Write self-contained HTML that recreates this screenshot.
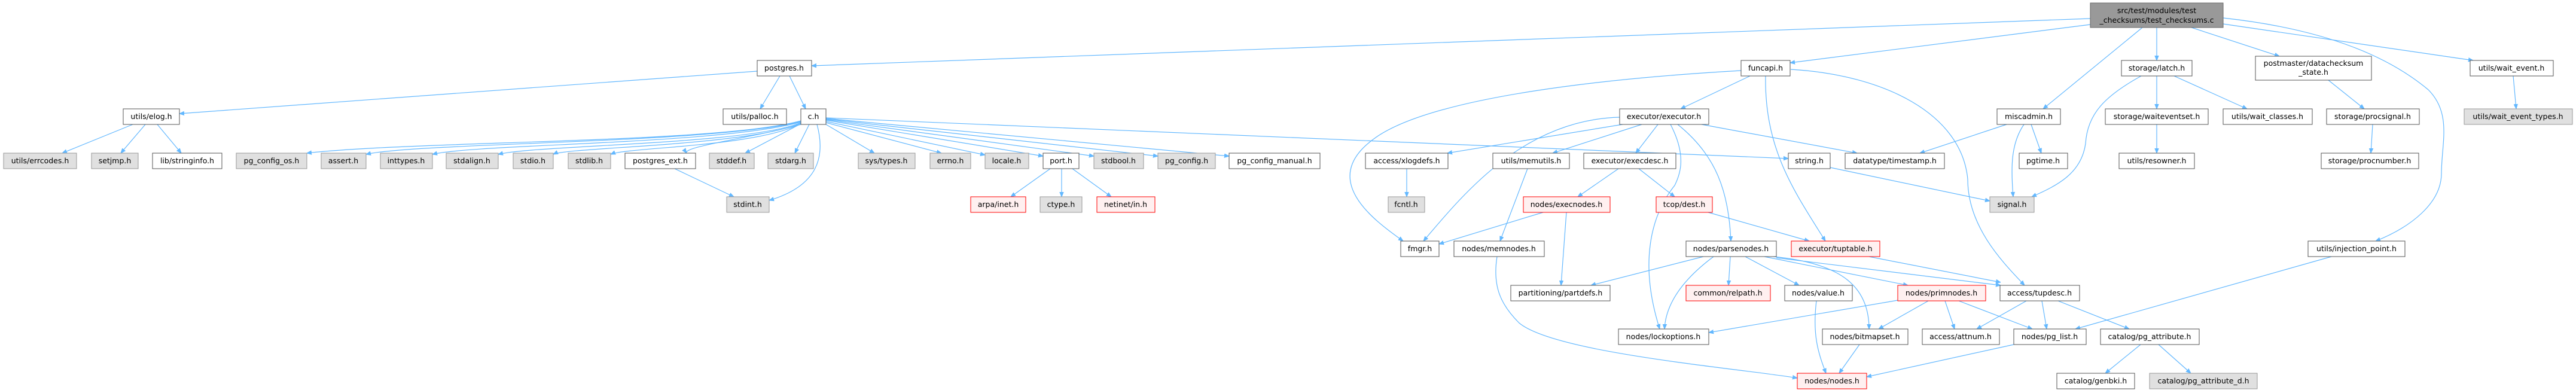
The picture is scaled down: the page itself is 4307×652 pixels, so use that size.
<!DOCTYPE html>
<html><head><meta charset="utf-8"><style>
html,body{margin:0;padding:0;background:#fff;width:4307px;height:652px;overflow:hidden}
svg{display:block}
text{font-family:"DejaVu Sans","Liberation Sans",sans-serif;font-size:12.5px;fill:#000;text-anchor:middle}
.w{fill:#fff;stroke:#555;stroke-width:1}
.g{fill:#e0e0e0;stroke:#999;stroke-width:1}
.r{fill:#fff0f0;stroke:#f00;stroke-width:1}
.t{fill:#999;stroke:#666;stroke-width:1}
path{fill:none;stroke:#63b8ff;stroke-width:1.2;marker-end:url(#a)}
</style></head><body>
<svg width="4307" height="652" viewBox="0 0 4307 652" xmlns="http://www.w3.org/2000/svg">
<defs><marker id="a" viewBox="0 0 10 10" refX="10" refY="5" markerWidth="8" markerHeight="8" markerUnits="userSpaceOnUse" orient="auto"><path d="M0,1 L10,5 L0,9 z" style="fill:#63b8ff;stroke:#63b8ff;marker-end:none"/></marker></defs>

<path d="M3495,31 L1357,110"/>
<path d="M3495,41 L2993,105"/>
<path d="M3582,46 L3416,182"/>
<path d="M3606,46 L3606,101"/>
<path d="M3664,46 L3811,94"/>
<path d="M3717,40 L4135,101"/>
<path d="M3717,30 C3900,50 4000,100 4060,150 C4100,190 4082,240 4082,290 C4082,340 4030,380 3972,403"/>
<path d="M1266,119 L300,190"/>
<path d="M1304,127 L1271,182"/>
<path d="M1320,127 L1347,182"/>
<path d="M222,208 L104,256"/>
<path d="M243,208 L202,256"/>
<path d="M263,208 L303,256"/>
<path d="M1339,202 C1200,240 700,235 513,256"/>
<path d="M1339,203 C1200,240 700,238 612,258"/>
<path d="M1339,204 C1200,242 800,240 723,258"/>
<path d="M1339,205 C1250,242 900,242 833,258"/>
<path d="M1339,206 C1250,244 950,246 925,258"/>
<path d="M1339,207 C1260,246 1050,246 1021,258"/>
<path d="M1339,208 C1260,230 1140,245 1148,256"/>
<path d="M1337,208 L1246,256"/>
<path d="M1353,208 L1329,256"/>
<path d="M1366,208 C1380,260 1370,310 1286,335"/>
<path d="M1381,208 L1462,256"/>
<path d="M1381,205 L1574,256"/>
<path d="M1381,203 L1647,259"/>
<path d="M1381,201 L1744,261"/>
<path d="M1381,200 L1829,261"/>
<path d="M1381,199 L1936,261"/>
<path d="M1381,198 L2055,261"/>
<path d="M1381,197 L2990,265"/>
<path d="M1128,282 L1227,329"/>
<path d="M1756,282 L1690,329"/>
<path d="M1775,282 L1775,329"/>
<path d="M1793,282 L1858,329"/>
<path d="M2926,127 L2810,182"/>
<path d="M2911,118 C2700,130 2400,160 2300,230 C2200,300 2300,370 2346,403"/>
<path d="M2952,127 C2950,250 3000,320 3052,403"/>
<path d="M2994,116 C3150,125 3280,190 3290,300 C3290,380 3350,440 3385,477"/>
<path d="M3355,208 L3210,256"/>
<path d="M3384,208 C3362,240 3362,280 3366,329"/>
<path d="M3396,208 L3413,256"/>
<path d="M3060,280 L3327,336"/>
<path d="M2713,208 L2420,256"/>
<path d="M2708,196 C2550,200 2450,320 2380,403"/>
<path d="M2745,208 L2596,256"/>
<path d="M2772,208 L2735,256"/>
<path d="M2793,208 C2820,260 2810,290 2800,310 C2760,360 2740,440 2775,550"/>
<path d="M2805,208 C2870,260 2890,320 2894,403"/>
<path d="M2845,208 L3105,256"/>
<path d="M2352,282 L2352,329"/>
<path d="M2554,282 L2508,403"/>
<path d="M2706,282 L2638,329"/>
<path d="M2740,282 L2800,329"/>
<path d="M2580,355 L2406,408"/>
<path d="M2619,355 L2610,477"/>
<path d="M2856,355 L3025,403"/>
<path d="M2503,429 C2495,480 2510,510 2540,540 C2600,590 2900,615 3005,632"/>
<path d="M2848,429 L2660,477"/>
<path d="M2865,429 C2810,470 2785,510 2783,550"/>
<path d="M2893,429 L2890,477"/>
<path d="M2918,429 L3008,477"/>
<path d="M2950,429 L3190,477"/>
<path d="M2965,429 C3080,440 3125,480 3125,550"/>
<path d="M2970,431 L3345,477"/>
<path d="M3125,429 L3345,472"/>
<path d="M3173,502 L2857,556"/>
<path d="M3224,503 L3141,550"/>
<path d="M3252,503 L3268,550"/>
<path d="M3275,503 L3398,550"/>
<path d="M3037,503 C3030,560 3040,590 3053,624"/>
<path d="M3109,576 L3075,624"/>
<path d="M3367,576 L3121,630"/>
<path d="M3388,503 L3305,550"/>
<path d="M3414,503 L3422,550"/>
<path d="M3441,503 L3560,550"/>
<path d="M3579,576 L3520,624"/>
<path d="M3609,576 L3663,624"/>
<path d="M3898,429 L3470,550"/>
<path d="M3606,127 L3606,182"/>
<path d="M3635,127 L3757,182"/>
<path d="M3580,127 C3520,160 3490,190 3487,240 C3480,290 3440,310 3397,329"/>
<path d="M3893,134 L3953,182"/>
<path d="M3967,208 L3964,256"/>
<path d="M3606,208 L3606,256"/>
<path d="M4202,127 L4207,182"/>

<rect class="t" x="3495" y="5" width="222" height="41"/><text x="3606" y="22">src/test/modules/test</text><text x="3606" y="38">_checksums/test_checksums.c</text>
<rect class="w" x="1266" y="101" width="91" height="26"/><text x="1311" y="118">postgres.h</text>
<rect class="w" x="2911" y="101" width="82" height="26"/><text x="2952" y="118">funcapi.h</text>
<rect class="w" x="3547" y="101" width="118" height="26"/><text x="3606" y="118">storage/latch.h</text>
<rect class="w" x="3771" y="94" width="194" height="40"/><text x="3868" y="110">postmaster/datachecksum</text><text x="3868" y="125">_state.h</text>
<rect class="w" x="4130" y="101" width="139" height="26"/><text x="4199" y="118">utils/wait_event.h</text>

<rect class="w" x="206" y="182" width="94" height="26"/><text x="253" y="199">utils/elog.h</text>
<rect class="w" x="1209" y="182" width="106" height="26"/><text x="1262" y="199">utils/palloc.h</text>
<rect class="w" x="1339" y="182" width="42" height="26"/><text x="1360" y="199">c.h</text>
<rect class="w" x="2708" y="182" width="149" height="26"/><text x="2782" y="199">executor/executor.h</text>
<rect class="w" x="3339" y="182" width="106" height="26"/><text x="3392" y="199">miscadmin.h</text>
<rect class="w" x="3520" y="182" width="172" height="26"/><text x="3606" y="199">storage/waiteventset.h</text>
<rect class="w" x="3717" y="182" width="149" height="26"/><text x="3791" y="199">utils/wait_classes.h</text>
<rect class="w" x="3890" y="182" width="155" height="26"/><text x="3967" y="199">storage/procsignal.h</text>
<rect class="g" x="4120" y="182" width="181" height="26"/><text x="4210" y="199">utils/wait_event_types.h</text>

<rect class="g" x="6" y="256" width="122" height="26"/><text x="67" y="273">utils/errcodes.h</text>
<rect class="g" x="153" y="256" width="78" height="26"/><text x="192" y="273">setjmp.h</text>
<rect class="w" x="255" y="256" width="116" height="26"/><text x="313" y="273">lib/stringinfo.h</text>
<rect class="g" x="395" y="256" width="118" height="26"/><text x="454" y="273">pg_config_os.h</text>
<rect class="g" x="537" y="256" width="75" height="26"/><text x="574" y="273">assert.h</text>
<rect class="g" x="636" y="256" width="87" height="26"/><text x="679" y="273">inttypes.h</text>
<rect class="g" x="746" y="256" width="87" height="26"/><text x="789" y="273">stdalign.h</text>
<rect class="g" x="858" y="256" width="67" height="26"/><text x="891" y="273">stdio.h</text>
<rect class="g" x="950" y="256" width="71" height="26"/><text x="985" y="273">stdlib.h</text>
<rect class="w" x="1045" y="256" width="118" height="26"/><text x="1104" y="273">postgres_ext.h</text>
<rect class="g" x="1186" y="256" width="75" height="26"/><text x="1223" y="273">stddef.h</text>
<rect class="g" x="1284" y="256" width="76" height="26"/><text x="1322" y="273">stdarg.h</text>
<rect class="g" x="1435" y="256" width="95" height="26"/><text x="1482" y="273">sys/types.h</text>
<rect class="g" x="1555" y="256" width="68" height="26"/><text x="1589" y="273">errno.h</text>
<rect class="g" x="1647" y="256" width="73" height="26"/><text x="1683" y="273">locale.h</text>
<rect class="w" x="1744" y="256" width="60" height="26"/><text x="1774" y="273">port.h</text>
<rect class="g" x="1829" y="256" width="83" height="26"/><text x="1870" y="273">stdbool.h</text>
<rect class="g" x="1936" y="256" width="96" height="26"/><text x="1984" y="273">pg_config.h</text>
<rect class="w" x="2055" y="256" width="152" height="26"/><text x="2131" y="273">pg_config_manual.h</text>
<rect class="w" x="2283" y="256" width="138" height="26"/><text x="2352" y="273">access/xlogdefs.h</text>
<rect class="w" x="2496" y="256" width="128" height="26"/><text x="2560" y="273">utils/memutils.h</text>
<rect class="w" x="2648" y="256" width="154" height="26"/><text x="2725" y="273">executor/execdesc.h</text>
<rect class="w" x="2990" y="256" width="70" height="26"/><text x="3025" y="273">string.h</text>
<rect class="w" x="3085" y="256" width="166" height="26"/><text x="3168" y="273">datatype/timestamp.h</text>
<rect class="w" x="3376" y="256" width="81" height="26"/><text x="3416" y="273">pgtime.h</text>
<rect class="w" x="3543" y="256" width="126" height="26"/><text x="3606" y="273">utils/resowner.h</text>
<rect class="w" x="3881" y="256" width="163" height="26"/><text x="3962" y="273">storage/procnumber.h</text>

<rect class="g" x="1215" y="329" width="71" height="26"/><text x="1250" y="346">stdint.h</text>
<rect class="r" x="1623" y="329" width="92" height="26"/><text x="1669" y="346">arpa/inet.h</text>
<rect class="g" x="1739" y="329" width="70" height="26"/><text x="1774" y="346">ctype.h</text>
<rect class="r" x="1834" y="329" width="97" height="26"/><text x="1882" y="346">netinet/in.h</text>
<rect class="g" x="2321" y="329" width="61" height="26"/><text x="2351" y="346">fcntl.h</text>
<rect class="r" x="2547" y="329" width="145" height="26"/><text x="2619" y="346">nodes/execnodes.h</text>
<rect class="r" x="2769" y="329" width="94" height="26"/><text x="2816" y="346">tcop/dest.h</text>
<rect class="g" x="3327" y="329" width="74" height="26"/><text x="3364" y="346">signal.h</text>

<rect class="w" x="2342" y="403" width="64" height="26"/><text x="2374" y="420">fmgr.h</text>
<rect class="w" x="2431" y="403" width="151" height="26"/><text x="2506" y="420">nodes/memnodes.h</text>
<rect class="w" x="2819" y="403" width="151" height="26"/><text x="2894" y="420">nodes/parsenodes.h</text>
<rect class="r" x="2995" y="403" width="148" height="26"/><text x="3069" y="420">executor/tuptable.h</text>
<rect class="w" x="3859" y="403" width="162" height="26"/><text x="3940" y="420">utils/injection_point.h</text>

<rect class="w" x="2526" y="477" width="166" height="26"/><text x="2609" y="494">partitioning/partdefs.h</text>
<rect class="r" x="2819" y="477" width="141" height="26"/><text x="2889" y="494">common/relpath.h</text>
<rect class="w" x="2984" y="477" width="113" height="26"/><text x="3040" y="494">nodes/value.h</text>
<rect class="r" x="3173" y="477" width="147" height="26"/><text x="3246" y="494">nodes/primnodes.h</text>
<rect class="w" x="3344" y="477" width="133" height="26"/><text x="3410" y="494">access/tupdesc.h</text>

<rect class="w" x="2706" y="550" width="151" height="26"/><text x="2781" y="567">nodes/lockoptions.h</text>
<rect class="w" x="3047" y="550" width="143" height="26"/><text x="3118" y="567">nodes/bitmapset.h</text>
<rect class="w" x="3214" y="550" width="129" height="26"/><text x="3278" y="567">access/attnum.h</text>
<rect class="w" x="3367" y="550" width="121" height="26"/><text x="3427" y="567">nodes/pg_list.h</text>
<rect class="w" x="3512" y="550" width="165" height="26"/><text x="3594" y="567">catalog/pg_attribute.h</text>

<rect class="r" x="3005" y="624" width="116" height="26"/><text x="3063" y="641">nodes/nodes.h</text>
<rect class="w" x="3439" y="624" width="130" height="26"/><text x="3504" y="641">catalog/genbki.h</text>
<rect class="g" x="3594" y="624" width="180" height="26"/><text x="3684" y="641">catalog/pg_attribute_d.h</text>
</svg>
</body></html>
